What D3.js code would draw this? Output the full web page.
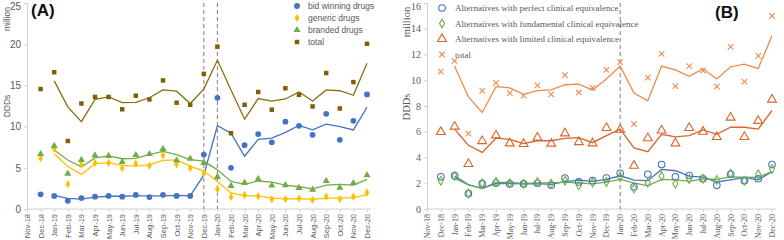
<!DOCTYPE html>
<html lang="en">
<head>
  <meta charset="UTF-8">
  <title>DDDs by drug group</title>
  <script src="https://d3js.org/d3.v7.min.js"></script>
  <style>
    body { margin: 0; background: #fff; }
    .sans text { font-family: "Liberation Sans", Arial, sans-serif; fill: #595959; }
    .serif text { font-family: "Liberation Serif", "Times New Roman", serif; fill: #595959; }
    .axis path, .axis line { stroke: #d0d0d0; }
    .trend { fill: none; stroke-width: 1.3px; }
    .cut { stroke: #808080; stroke-dasharray: 4,3; stroke-width: 1; }
  </style>
</head>
<body>
  <svg id="chart" width="784" height="240"></svg>

  <script>
    const months = ["Nov-18","Dec-18","Jan-19","Feb-19","Mar-19","Apr-19","May-19","Jun-19","Jul-19","Aug-19",
      "Sep-19","Oct-19","Nov-19","Dec-19","Jan-20","Feb-20","Mar-20","Apr-20","May-20","Jun-20","Jul-20",
      "Aug-20","Sep-20","Oct-20","Nov-20","Dec-20"];
    const pointMonths = months.slice(1);   // Dec-18 .. Dec-20
    const lineMonths = months.slice(2);    // Jan-19 .. Dec-20

    // panel A (million DDDs)
    const bidWinning = [1.78,1.58,1.0,1.33,1.5,1.58,1.5,1.7,1.45,1.72,1.58,1.58,6.6,13.5,5.0,7.75,9.1,8.1,10.6,10.1,9.0,11.55,8.4,10.7,13.9];
    const generic    = [6.15,7.3,3.0,5.4,5.6,5.6,4.95,5.5,5.25,6.5,5.4,4.95,4.3,2.4,1.45,1.7,1.55,1.18,1.2,1.3,1.1,1.5,1.2,1.5,2.0];
    const branded    = [6.67,7.65,4.3,5.95,6.5,6.45,5.7,6.55,6.67,7.3,5.9,6.1,5.6,3.9,2.8,3.2,3.65,2.85,2.9,2.55,2.35,3.4,2.6,3.15,4.1];
    const totalA     = [14.56,16.6,8.25,12.8,13.6,13.6,12.1,13.75,13.3,15.6,12.9,12.65,16.4,19.7,9.2,12.65,14.2,12.05,14.65,13.85,12.45,16.5,12.2,15.4,20.05];
    const bidWinningLine = [1.65,1.3,1.2,1.45,1.55,1.55,1.6,1.6,1.6,1.65,1.6,4.1,10.1,9.2,6.4,8.45,8.6,9.3,10.15,9.6,10.3,10.0,9.6,12.35];
    const genericLine    = [6.7,5.15,4.2,5.5,5.6,5.3,5.2,5.35,5.9,5.95,5.2,4.6,3.35,1.95,1.6,1.6,1.35,1.2,1.25,1.2,1.3,1.35,1.35,1.75];
    const brandedLine    = [7.15,5.95,5.1,6.2,6.45,6.1,6.15,6.6,7.0,6.6,6.0,5.8,4.75,3.35,3.0,3.4,3.25,2.9,2.7,2.45,2.9,3.0,2.9,3.6];
    const totalALine     = [15.55,12.4,10.6,13.3,13.6,12.9,12.95,13.5,14.45,14.3,12.8,14.55,18.05,14.45,10.9,13.4,13.1,13.35,14.2,13.1,14.45,14.35,13.8,17.7];
    const ticksA = [0,5,10,15,20,25];
    const cutsA = ["Dec-19","Jan-20"];

    // panel B (million DDDs)
    const perfect     = [2.5,2.6,1.2,1.97,2.0,1.95,1.95,2.0,1.85,2.4,2.1,2.2,2.4,2.77,1.73,2.7,3.45,2.5,2.6,2.35,1.84,2.7,2.2,2.35,3.45];
    const fundamental = [2.2,2.56,1.2,2.0,2.12,2.0,1.97,2.1,1.97,2.2,1.84,2.05,2.1,2.5,1.6,2.05,2.56,1.97,2.33,2.35,2.25,2.75,2.2,2.7,3.1];
    const limited     = [5.98,6.4,3.5,5.28,5.72,5.1,5.05,5.55,5.08,5.88,5.2,5.1,6.3,6.16,3.36,5.5,6.1,5.1,6.3,6.0,5.6,7.1,5.6,6.85,8.5];
    const totalB      = [10.67,11.5,5.85,9.2,9.8,9.0,8.8,9.6,8.9,10.4,9.05,9.4,10.8,11.4,6.6,10.2,12.05,9.55,11.1,10.75,9.5,12.6,9.9,11.9,15.0];
    const perfectLine     = [2.55,1.9,1.58,1.98,1.97,1.95,1.97,1.92,2.12,2.25,2.15,2.3,2.58,2.25,2.2,3.07,2.97,2.55,2.47,2.1,2.27,2.45,2.27,2.9];
    const fundamentalLine = [2.38,1.88,1.6,2.06,2.06,1.98,2.03,2.03,2.08,2.02,1.95,2.08,2.3,2.03,1.8,2.3,2.27,2.15,2.34,2.3,2.5,2.47,2.45,2.9];
    const limitedLine     = [6.2,4.95,4.4,5.5,5.4,5.08,5.3,5.3,5.48,5.55,5.15,5.7,6.2,4.75,4.45,5.8,5.6,5.7,6.15,5.8,6.35,6.35,6.2,7.65];
    const totalBLine      = [11.1,8.7,7.5,9.5,9.4,8.9,9.2,9.25,9.65,9.7,9.25,10.1,11.1,9.0,8.4,11.1,10.8,10.3,10.9,10.1,11.05,11.25,10.9,13.45];
    const ticksB = [0,2,4,6,8,10,12,14,16];
    const cutsB = ["Jan-20"];

    const crossX = {
      draw(ctx, size) {
        const r = Math.sqrt(size) / 2;
        ctx.moveTo(-r, -r); ctx.lineTo(r, r);
        ctx.moveTo(r, -r); ctx.lineTo(-r, r);
      }
    };

    const svg = d3.select("#chart");

    function drawPanel(cfg) {
      const g = svg.append("g").attr("class", cfg.cls);
      const x = d3.scalePoint().domain(months).range(cfg.xRange);
      const y = d3.scaleLinear().domain(cfg.yDomain).range([209, 3]);

      const ya = g.append("g").attr("class", "axis")
        .attr("transform", `translate(${cfg.xRange[0]},0)`)
        .call(d3.axisLeft(y).tickValues(cfg.ticks).tickSize(3).tickSizeOuter(0).tickPadding(3));
      ya.selectAll("text").style("font-size", cfg.tickFont);
      // keep the top label inside the picture
      ya.selectAll(".tick").filter(d => d === cfg.yDomain[1]).select("text").attr("dy", "0.6em");

      const xa = g.append("g").attr("class", "axis")
        .attr("transform", "translate(0,209)")
        .call(d3.axisBottom(x).tickSize(3).tickSizeOuter(0));
      xa.select(".domain").attr("d", `M${cfg.xRange[0]},0H${cfg.xRange[1] + 4}`);
      xa.selectAll("text")
        .attr("transform", "rotate(-90)")
        .attr("x", -5).attr("y", 0).attr("dy", "0.32em")
        .style("text-anchor", "end")
        .style("font-size", cfg.monthFont);

      cfg.cuts.forEach(m => {
        g.append("line").attr("class", "cut")
          .attr("x1", x(m)).attr("x2", x(m)).attr("y1", 3).attr("y2", 209);
      });

      // trend lines first, markers on top
      cfg.series.forEach(s => {
        g.append("path").attr("class", "trend")
          .datum(s.line)
          .attr("stroke", s.lineColor || s.color)
          .attr("d", d3.line().x((d, i) => x(lineMonths[i])).y(d => y(d)));
      });
      cfg.series.forEach(s => {
        g.selectAll(null).data(s.values).enter().append("path")
          .attr("transform", (d, i) => `translate(${x(pointMonths[i])},${y(d)})`)
          .attr("d", d3.symbol().type(s.symbol).size(s.size))
          .attr("fill", s.open ? "none" : s.color)
          .attr("stroke", s.open ? s.color : "none")
          .attr("stroke-width", 1.1);
      });

      // legend
      const lg = g.selectAll(".leg").data(cfg.series).enter().append("g")
        .attr("transform", (d, i) => `translate(${cfg.legend.x},${cfg.legend.y + i * cfg.legend.step})`);
      lg.append("path")
        .attr("d", d => d3.symbol().type(d.symbol).size(d.size)())
        .attr("fill", d => d.open ? "none" : d.color)
        .attr("stroke", d => d.open ? d.color : "none")
        .attr("stroke-width", 1.1);
      lg.append("text")
        .attr("x", cfg.legend.dx).attr("dy", "0.35em")
        .style("font-size", cfg.legend.font)
        .text(d => d.name);

      // y titles and panel label
      g.append("text").attr("transform", `translate(${cfg.titleX},${cfg.millionY}) rotate(-90)`)
        .style("text-anchor", "middle").style("font-size", cfg.titleFont).text("million");
      g.append("text").attr("transform", `translate(${cfg.titleX},${cfg.dddY}) rotate(-90)`)
        .style("text-anchor", "middle").style("font-size", cfg.titleFont).text("DDDs");
      g.append("text").attr("x", cfg.tag.x).attr("y", cfg.tag.y)
        .style("font-family", "'Liberation Sans', Arial, sans-serif")
        .style("font-weight", "bold").style("font-size", "17px").style("fill", "#111")
        .text(cfg.tag.text);
    }

    drawPanel({
      cls: "sans", xRange: [27, 367], yDomain: [0, 25], ticks: ticksA, cuts: cutsA,
      tickFont: "10px", monthFont: "7.5px", titleFont: "8.5px", titleX: 10, millionY: 19, dddY: 106,
      tag: { x: 31, y: 16, text: "(A)" },
      legend: { x: 297, y: 6, step: 12, dx: 11, font: "8.5px" },
      series: [
        { name: "bid winning drugs", values: bidWinning, line: bidWinningLine, color: "#4472C4", symbol: d3.symbolCircle, size: 26 },
        { name: "generic drugs", values: generic, line: genericLine, color: "#FFC000", symbol: d3.symbolDiamond, size: 20 },
        { name: "branded drugs", values: branded, line: brandedLine, color: "#70AD47", symbol: d3.symbolTriangle, size: 22 },
        { name: "total", values: totalA, line: totalALine, color: "#7F6000", lineColor: "#8C6D12", symbol: d3.symbolSquare, size: 20 }
      ]
    });

    drawPanel({
      cls: "serif", xRange: [427, 772], yDomain: [0, 16], ticks: ticksB, cuts: cutsB,
      tickFont: "10px", monthFont: "8px", titleFont: "10.5px", titleX: 410, millionY: 22, dddY: 107,
      tag: { x: 715, y: 18, text: "(B)" },
      legend: { x: 442, y: 8, step: 15.5, dx: 13, font: "9px" },
      series: [
        { name: "Alternatives with perfect clinical equivalence", values: perfect, line: perfectLine, color: "#4472C4", symbol: d3.symbolCircle, size: 34, open: true },
        { name: "Alternatives with fundamental clinical equivalence", values: fundamental, line: fundamentalLine, color: "#70AD47", symbol: d3.symbolDiamond, size: 22, open: true },
        { name: "Alternatives with limited clinical equivalence", values: limited, line: limitedLine, color: "#D9652B", symbol: d3.symbolTriangle, size: 34, open: true },
        { name: "total", values: totalB, line: totalBLine, color: "#F08A4B", symbol: crossX, size: 30, open: true }
      ]
    });
  </script>
</body>
</html>
